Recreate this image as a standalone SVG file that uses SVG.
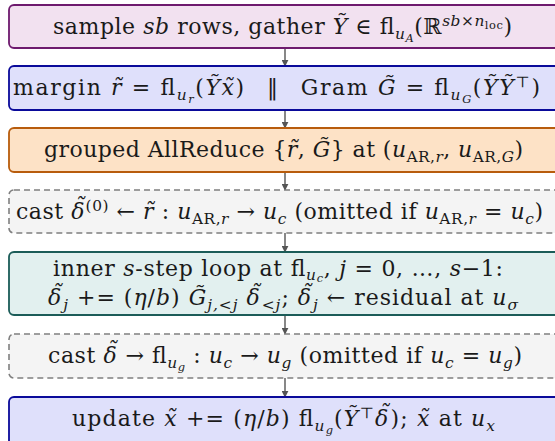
<svg xmlns="http://www.w3.org/2000/svg" width="555" height="441" viewBox="0 0 555 441">
<defs>
<marker id="ah" viewBox="0 0 10 10" refX="9" refY="5" markerWidth="7" markerHeight="7" orient="auto" markerUnits="userSpaceOnUse">
<path d="M0,0 L10,5 L0,10 z" fill="#555"/>
</marker>
<style>
.a{font-family:'DejaVu Serif',serif;font-size:22px;fill:#1a1a1a}
.i{font-style:italic}
.s{font-size:0.7em}
.ss{font-size:0.52em}
.box{stroke-width:1.8}
.dash{fill:#f4f4f4;stroke:#7f7f7f;stroke-width:1.6;stroke-dasharray:6 4}
.conn{stroke:#555;stroke-width:1.4;fill:none;marker-end:url(#ah)}
</style>
</defs>
<g id="connectors">
<line class="conn" x1="285" y1="48" x2="285" y2="66"/>
<line class="conn" x1="285" y1="110" x2="285" y2="128"/>
<line class="conn" x1="285" y1="172" x2="285" y2="190"/>
<line class="conn" x1="285" y1="233" x2="285" y2="252"/>
<line class="conn" x1="285" y1="315" x2="285" y2="334"/>
<line class="conn" x1="285" y1="378" x2="285" y2="397"/>
</g>
<g id="n1">
<rect class="box" x="9" y="5" width="560" height="43" rx="5" fill="#f2e1f0" stroke="#6e1a6e"/>
<text class="a" x="282.5" y="34" text-anchor="middle" textLength="459" lengthAdjust="spacing">sample <tspan class="i">sb</tspan> rows, gather <tspan class="i">Ỹ</tspan> ∈ fl<tspan class="s i" dy="5">u</tspan><tspan class="ss i" dy="3">A</tspan><tspan dy="-8">(ℝ</tspan><tspan class="s i" dy="-8">sb</tspan><tspan class="s">×</tspan><tspan class="s i">n</tspan><tspan class="ss" dy="3">loc</tspan><tspan dy="5">)</tspan></text>
</g>
<g id="n2">
<rect class="box" x="9" y="66" width="560" height="44" rx="5" fill="#dfe0fb" stroke="#0a0a9a"/>
<text class="a" x="276.5" y="95" text-anchor="middle" textLength="527" lengthAdjust="spacing">margin <tspan class="i">r̃</tspan> = fl<tspan class="s i" dy="5">u</tspan><tspan class="ss i" dy="3">r</tspan><tspan dy="-8">(</tspan><tspan class="i">Ỹx̃</tspan>)&#8194; ‖ &#8194;Gram <tspan class="i">G̃</tspan> = fl<tspan class="s i" dy="5">u</tspan><tspan class="ss i" dy="3">G</tspan><tspan dy="-8">(</tspan><tspan class="i">ỸỸ</tspan><tspan class="s" dy="-8">⊤</tspan><tspan dy="8">)</tspan></text>
</g>
<g id="n3">
<rect class="box" x="9" y="128" width="560" height="44" rx="5" fill="#fde2c6" stroke="#b85c0c"/>
<text class="a" x="283.5" y="157" text-anchor="middle" textLength="479" lengthAdjust="spacing">grouped AllReduce {<tspan class="i">r̃</tspan>, <tspan class="i">G̃</tspan>} at (<tspan class="i">u</tspan><tspan class="s" dy="5">AR,</tspan><tspan class="s i">r</tspan><tspan dy="-5">, </tspan><tspan class="i">u</tspan><tspan class="s" dy="5">AR,</tspan><tspan class="s i">G</tspan><tspan dy="-5">)</tspan></text>
</g>
<g id="n4">
<rect class="dash" x="9" y="190" width="560" height="43" rx="5"/>
<text class="a" x="279.5" y="219" text-anchor="middle" textLength="527" lengthAdjust="spacing">cast <tspan class="i" dx="0 -11" dy="0 -5">δ˜</tspan><tspan class="s" dy="-3">(0)</tspan><tspan dy="8"> ← </tspan><tspan class="i">r̃</tspan> : <tspan class="i">u</tspan><tspan class="s" dy="5">AR,</tspan><tspan class="s i">r</tspan><tspan dy="-5"> → </tspan><tspan class="i">u</tspan><tspan class="s i" dy="5">c</tspan><tspan dy="-5"> (omitted if </tspan><tspan class="i">u</tspan><tspan class="s" dy="5">AR,</tspan><tspan class="s i">r</tspan><tspan dy="-5"> = </tspan><tspan class="i">u</tspan><tspan class="s i" dy="5">c</tspan><tspan dy="-5">)</tspan></text>
</g>
<g id="n5">
<rect class="box" x="9" y="252" width="560" height="63" rx="5" fill="#e2f0ef" stroke="#1b5c58"/>
<text class="a" x="278" y="276" text-anchor="middle" textLength="450" lengthAdjust="spacing">inner <tspan class="i">s</tspan>-step loop at fl<tspan class="s i" dy="4">u</tspan><tspan class="ss i" dy="2">c</tspan><tspan dy="-6">, </tspan><tspan class="i">j</tspan> = 0, …, <tspan class="i">s</tspan>−1:</text>
<text class="a" x="283" y="305" text-anchor="middle" textLength="470" lengthAdjust="spacing"><tspan class="i" dx="0 -11" dy="0 -4">δ˜</tspan><tspan class="s i" dy="9">j</tspan><tspan dy="-5"> += (</tspan><tspan class="i">η</tspan>/<tspan class="i">b</tspan>) <tspan class="i">G̃</tspan><tspan class="s i" dy="5">j,&lt;j</tspan><tspan dy="-5"> </tspan><tspan class="i" dx="0 -11" dy="0 -4">δ˜</tspan><tspan class="s i" dy="9">&lt;j</tspan><tspan dy="-5">;  </tspan><tspan class="i" dx="0 -11" dy="0 -4">δ˜</tspan><tspan class="s i" dy="9">j</tspan><tspan dy="-5"> ← residual at </tspan><tspan class="i">u</tspan><tspan class="s i" dy="5">σ</tspan></text>
</g>
<g id="n6">
<rect class="dash" x="9" y="334" width="560" height="44" rx="5"/>
<text class="a" x="285" y="363" text-anchor="middle" textLength="474" lengthAdjust="spacing">cast <tspan class="i" dx="0 -11" dy="0 -5">δ˜</tspan><tspan dy="5"> → fl</tspan><tspan class="s i" dy="5">u</tspan><tspan class="ss i" dy="3">g</tspan><tspan dy="-8"> : </tspan><tspan class="i">u</tspan><tspan class="s i" dy="5">c</tspan><tspan dy="-5"> → </tspan><tspan class="i">u</tspan><tspan class="s i" dy="5">g</tspan><tspan dy="-5"> (omitted if </tspan><tspan class="i">u</tspan><tspan class="s i" dy="5">c</tspan><tspan dy="-5"> = </tspan><tspan class="i">u</tspan><tspan class="s i" dy="5">g</tspan><tspan dy="-5">)</tspan></text>
</g>
<g id="n7">
<rect class="box" x="9" y="397" width="560" height="50" rx="5" fill="#dfe0fb" stroke="#0a0a9a"/>
<text class="a" x="283.5" y="426" text-anchor="middle" textLength="423" lengthAdjust="spacing">update <tspan class="i">x̃</tspan> += (<tspan class="i">η</tspan>/<tspan class="i">b</tspan>) fl<tspan class="s i" dy="5">u</tspan><tspan class="ss i" dy="3">g</tspan><tspan dy="-8">(</tspan><tspan class="i">Ỹ</tspan><tspan class="s" dy="-8">⊤</tspan><tspan class="i" dx="0 -11" dy="8 -5">δ˜</tspan><tspan dy="5">); </tspan><tspan class="i">x̃</tspan> at <tspan class="i">u</tspan><tspan class="s i" dy="5">x</tspan></text>
</g>
</svg>
